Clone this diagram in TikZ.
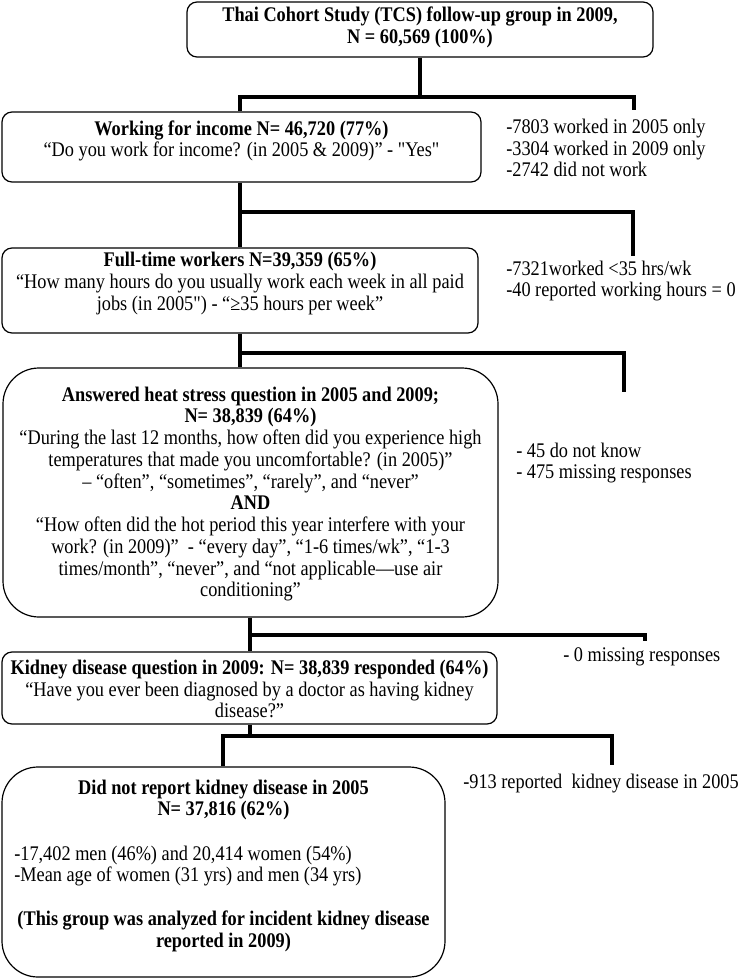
\documentclass[tikz,border=0pt]{standalone}
\usepackage{fontspec}
\setmainfont{Liberation Serif}[Ligatures=TeXOff, FakeStretch=0.88]
\newcommand{\txtsize}{\fontsize{15.6}{16.3}\selectfont}
\begin{document}
\begin{tikzpicture}[x=0.75pt,y=-0.75pt,
  box/.style={draw, line width=0.9pt, rounded corners=7.5pt, inner sep=0pt},
  bigbox/.style={draw, line width=0.9pt, rounded corners=27pt, inner sep=0pt},
  txt/.style={inner sep=0pt, align=center, font=\txtsize},
  side/.style={inner sep=0pt, align=left, anchor=west, font=\txtsize},
  conn/.style={line width=2.3pt, line join=miter}]
\useasboundingbox (0,0) rectangle (745,980);
% boxes
\node[box, minimum width=349.5pt, minimum height=41.25pt] (b1) at (420,29.5) {};
\node[box, minimum width=359.25pt, minimum height=52.5pt] (b2) at (241.5,147) {};
\node[box, minimum width=357pt, minimum height=63.75pt] (b3) at (240,290.5) {};
\node[bigbox, minimum width=371.25pt, minimum height=186.75pt] (b4) at (250.5,492.5) {};
\node[box, minimum width=371.25pt, minimum height=54pt] (b5) at (249.5,688) {};
\node[bigbox, minimum width=332.25pt, minimum height=157.5pt] (b6) at (223.5,872) {};
% texts in boxes
\node[txt] (t1) at (420,27.5) {\textbf{Thai Cohort Study (TCS) follow-up group in 2009,}\\\textbf{N = 60,569 (100\%)}};
\node[txt] (t2) at (241.5,141) {\textbf{Working for income N= 46,720 (77\%)}\\“Do you work for income? (in 2005 \& 2009)” - "Yes"};
\node[txt] (t3) at (240,283.5) {\textbf{Full-time workers N=39,359 (65\%)}\\“How many hours do you usually work each week in all paid\\jobs (in 2005") - “≥35 hours per week”};
\node[txt] (t4) at (250.5,494) {\textbf{Answered heat stress question in 2005 and 2009;}\\\textbf{N= 38,839 (64\%)}\\“During the last 12 months, how often did you experience high\\temperatures that made you uncomfortable? (in 2005)”\\– “often”, “sometimes”, “rarely”, and “never”\\\textbf{AND}\\“How often did the hot period this year interfere with your\\work? (in 2009)”\ \ - “every day”, “1-6 times/wk”, “1-3\\times/month”, “never”, and “not applicable—use air\\conditioning”};
\node[txt] (t5) at (249.5,689) {\textbf{Kidney disease question in 2009: N= 38,839 responded (64\%)}\\“Have you ever been diagnosed by a doctor as having kidney\\disease?”};
\node[txt] (t6a) at (223.5,800) {\textbf{Did not report kidney disease in 2005}\\\textbf{N= 37,816 (62\%)}};
\node[side] (t6b) at (14,866) {-17,402 men (46\%) and 20,414 women (54\%)\\-Mean age of women (31 yrs) and men (34 yrs)};
\node[txt] (t6c) at (223.5,931.5) {\textbf{(This group was analyzed for incident kidney disease}\\\textbf{reported in 2009)}};
% side texts
\node[side] (s2) at (506,148) {-7803 worked in 2005 only\\-3304 worked in 2009 only\\-2742 did not work};
\node[side] (s3) at (506,281) {-7321worked <35 hrs/wk\\-40 reported working hours = 0};
\node[side] (s4) at (516,463) {- 45 do not know\\- 475 missing responses};
\node[side] (s5) at (563,657) {- 0 missing responses};
\node[side] (s6) at (463,784) {-913 reported\ \ kidney disease in 2005};
% connectors
\coordinate (j1) at (420,97); \coordinate (l1) at (240,97); \coordinate (r1) at (634,97); \coordinate (e1) at (634,110);
\draw[conn] (b1.south) -- (j1);
\draw[conn] (l1 |- b2.north) -- (l1) -- (r1) -- (e1);
\coordinate (l2) at (240,212); \coordinate (r2) at (633,212); \coordinate (e2) at (633,256);
\draw[conn] (l2 |- b2.south) -- (l2 |- b3.north);
\draw[conn] (l2) -- (r2) -- (e2);
\coordinate (l3) at (240,353); \coordinate (r3) at (624,353); \coordinate (e3) at (624,392);
\draw[conn] (l3 |- b3.south) -- (l3 |- b4.north);
\draw[conn] (l3) -- (r3) -- (e3);
\coordinate (l4) at (250,635); \coordinate (r4) at (645,635); \coordinate (e4) at (645,641);
\draw[conn] (l4 |- b4.south) -- (l4 |- b5.north);
\draw[conn] (l4) -- (r4) -- (e4);
\coordinate (j5) at (250,736); \coordinate (l5) at (223,736); \coordinate (r5) at (612,736); \coordinate (e5) at (612,765);
\draw[conn] (j5 |- b5.south) -- (j5);
\draw[conn] (l5 |- b6.north) -- (l5) -- (r5) -- (e5);
\end{tikzpicture}
\end{document}
